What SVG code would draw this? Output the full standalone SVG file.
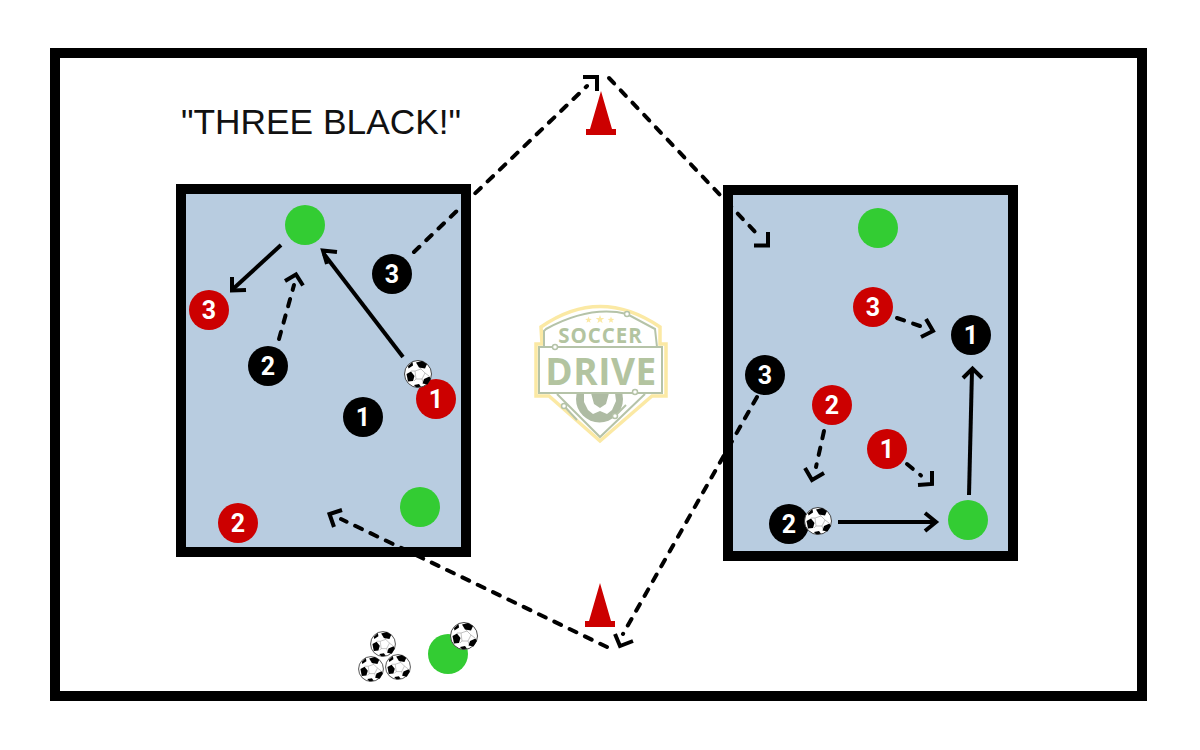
<svg xmlns="http://www.w3.org/2000/svg" width="1200" height="750" viewBox="0 0 1200 750">
<style>
.frame{fill:none;stroke:#000;stroke-width:10}
.box{fill:#b8cce0;stroke:#000;stroke-width:10}
.solid,.dash,.head{fill:none;stroke:#000;stroke-width:4}
.dash{stroke-dasharray:7.5 9.5;stroke-linecap:round}
.head{stroke-linejoin:miter;stroke-miterlimit:10}
.bk{fill:#000}.rd{fill:#cc0000}.gr{fill:#33cc33}.cone{fill:#cc0000}
.n{font:700 25px Roboto,"Liberation Sans",sans-serif;fill:#fff;text-anchor:middle}
.t{font:35.3px "Liberation Sans",Arial,sans-serif;fill:#111}
.lg{font-family:"Open Sans","Liberation Sans",sans-serif;font-weight:700;fill:#b3c4a0;text-anchor:middle}
.ln{fill:none;stroke:#b5c3a8;stroke-width:2}
.nd{fill:#fff;stroke:#b5c3a8;stroke-width:1.5}
.st{fill:#fbe9a4}
</style>
<defs>
<g id="ball">
<circle r="13.5" fill="#fff" stroke="#333" stroke-width="0.9"/>
<path d="M-3,-3 L3,-5 L7,-1 L4,5 L-2,5 Z M-3,-3 L-7,-3 M3,-5 L2,-7 M7,-1 L11,2 M4,5 L5,8 M-2,5 L-4,7" fill="#fff" stroke="#999" stroke-width="0.6"/>
<polygon points="-2,-11.5 4,-13 9,-10 7,-5.5 1,-6.5" fill="#000"/>
<polygon points="-11.5,0 -7,-2.5 -3.5,2 -5,7 -10,7.5" fill="#000"/>
<polygon points="6,5 11.5,2.5 12.8,5 9.5,10.5 4.5,9.5" fill="#000"/>
<polygon points="-10,-8 -5.5,-12 -5,-8.5 -9.5,-5.5" fill="#000"/>
<polygon points="-4,11 1,10 3,12.8 -2,13.2" fill="#000"/>
</g>
<polygon id="star" points="0,-1 .235,-.324 .951,-.309 .38,.124 .588,.809 0,.4 -.588,.809 -.38,.124 -.951,-.309 -.235,-.324"/>
</defs>
<rect class="frame" x="55" y="53" width="1087" height="643"/>
<g id="left-field"><rect class="box" x="181" y="189" width="285" height="363"/></g>
<g id="right-field"><rect class="box" x="728" y="190" width="285" height="366"/></g>
<g id="logo">
<path d="M536 344H542L541 327Q600 286 660 327L660 344H666V396H652L600 441L549 396H536Z" fill="#fff" stroke="#fbe9a4" stroke-width="3.5"/>
<path class="ln" d="M544 348V331L546 329Q590 305 627 314L655 329L657 347"/>
<path class="ln" d="M557 394L600 437L645 394"/>
<circle cx="599.5" cy="399" r="23.5" fill="#aebba3"/>
<polygon points="584,393 591,393 594,404 600,408 606,404 609,393 615,393 616,401 612,410 607,414 600,411 593,414 588,410 584,402" fill="#fff"/>
<path class="ln" d="M564 406L577 420M615 416L626 405"/>
<rect x="539" y="347" width="123" height="46" fill="#fff" stroke="#b5c3a8" stroke-width="2"/>
<text class="lg" x="600.5" y="343" font-size="20.5" letter-spacing="1">SOCCER</text>
<text class="lg" x="601" y="385" font-size="37" letter-spacing=".5">DRIVE</text>
<circle class="nd" cx="627" cy="314" r="2.5"/><circle class="nd" cx="555" cy="347" r="2.5"/><circle class="nd" cx="635" cy="392" r="2.5"/><circle class="nd" cx="564" cy="406" r="2.5"/><circle class="nd" cx="615" cy="416" r="2.5"/>
<use href="#star" class="st" transform="translate(588.5 320) scale(3.5)"/><use href="#star" class="st" transform="translate(600 319.5) scale(4.5)"/><use href="#star" class="st" transform="translate(611 320) scale(3.5)"/>
</g>
<g id="connectors">
<path class="solid" d="M281 245 L233 289"/><path class="head" d="M232 277 L232 290.5 L246 290"/>
<path class="solid" d="M403 357 L324 254"/><path class="head" d="M337 252 L323 250.5 L327 264"/>
<path class="dash" d="M279 339 L294 285"/><path class="head" d="M285 281 L296 274.5 L303 285.5"/>
<path class="dash" d="M414 252 L587 86"/><path class="head" d="M583 77 L597 77 L597 91"/>
<path class="dash" d="M609 78 L758 235"/><path class="head" d="M768 232 L768 245.5 L754 245.5"/>
<path class="dash" d="M757 397 L623 634"/><path class="head" d="M615 634 L620 646 L633 641"/>
<path class="dash" d="M607 647 L341 519"/><path class="head" d="M342 510 L329.5 514 L334 527"/>
<path class="dash" d="M897 318 L920 326"/><path class="head" d="M926 319 L933 331 L921 337"/>
<path class="dash" d="M824 431 L816 467"/><path class="head" d="M805 468 L812 480 L824 473"/>
<path class="dash" d="M907 464 L921 475.5"/><path class="head" d="M932 471 L932 484 L918 485"/>
<path class="solid" d="M969 495 L972 370"/><path class="head" d="M963 378 L972.5 368.5 L982 378"/>
<path class="solid" d="M838 522 L936 522"/><path class="head" d="M925 513 L936 522 L925 531"/>
</g>
<g id="black-1-left"><circle class="bk" cx="363" cy="417" r="20"/><text class="n" x="363" y="426">1</text></g>
<g id="black-2-left"><circle class="bk" cx="268" cy="366" r="20"/><text class="n" x="268" y="375">2</text></g>
<g id="black-3-left"><circle class="bk" cx="392" cy="274" r="20"/><text class="n" x="392" y="283">3</text></g>
<g id="red-1-left"><circle class="rd" cx="436" cy="399" r="20"/><text class="n" x="436" y="408">1</text></g>
<g id="red-2-left"><circle class="rd" cx="238" cy="523" r="20"/><text class="n" x="238" y="532">2</text></g>
<g id="red-3-left"><circle class="rd" cx="209" cy="310" r="20"/><text class="n" x="209" y="319">3</text></g>
<g id="green-top-left"><circle class="gr" cx="305" cy="225" r="20"/></g>
<g id="green-bottom-left"><circle class="gr" cx="420" cy="507" r="20"/></g>
<g id="ball-left"><use href="#ball" x="418" y="374"/></g>
<g id="black-1-right"><circle class="bk" cx="971" cy="335" r="20"/><text class="n" x="971" y="344">1</text></g>
<g id="black-2-right"><circle class="bk" cx="789" cy="524" r="20"/><text class="n" x="789" y="533">2</text></g>
<g id="black-3-right"><circle class="bk" cx="765" cy="375" r="20"/><text class="n" x="765" y="384">3</text></g>
<g id="red-1-right"><circle class="rd" cx="887" cy="449" r="20"/><text class="n" x="887" y="458">1</text></g>
<g id="red-2-right"><circle class="rd" cx="832" cy="405" r="20"/><text class="n" x="832" y="414">2</text></g>
<g id="red-3-right"><circle class="rd" cx="873" cy="307" r="20"/><text class="n" x="873" y="316">3</text></g>
<g id="green-top-right"><circle class="gr" cx="878" cy="228" r="20"/></g>
<g id="green-bottom-right"><circle class="gr" cx="968" cy="520" r="20"/></g>
<g id="ball-right"><use href="#ball" x="818" y="521"/></g>
<g id="cone-top"><polygon class="cone" points="601,91 612,129 616,129 616,135 586,135 586,129 590,129"/></g>
<g id="cone-bottom"><polygon class="cone" points="600,583 611,621 615,621 615,627 585,627 585,621 589,621"/></g>
<g id="green-bottom"><circle class="gr" cx="448" cy="654" r="20"/></g>
<g id="balls"><use href="#ball" transform="translate(383 644) scale(.92)"/><use href="#ball" transform="translate(371 669) scale(.92)"/><use href="#ball" transform="translate(398 667) scale(.92)"/><use href="#ball" x="464" y="636"/></g>
<text class="t" x="181" y="134">"THREE BLACK!"</text>
</svg>
